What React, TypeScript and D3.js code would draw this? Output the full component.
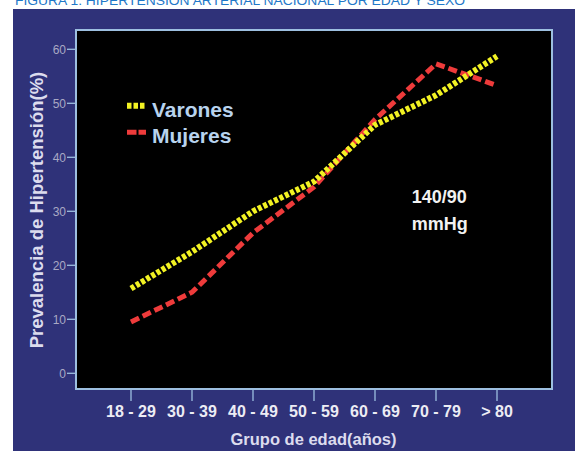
import React from "react";
import * as d3 from "d3";

const categories = ["18 - 29", "30 - 39", "40 - 49", "50 - 59", "60 - 69", "70 - 79", "> 80"];
const varones = [15.7, 22.5, 30, 35.5, 46, 51.5, 58.7];
const mujeres = [9.5, 15, 26, 34.5, 47, 57.3, 53.3];
const yTicks = [0, 10, 20, 30, 40, 50, 60];
const seriesNames = ["Varones", "Mujeres"];

export default function App() {
  const W = 575, H = 451;
  const frame = { x0: 76, x1: 552, y0: 30, y1: 389 };
  const x = d3.scalePoint<string>().domain(categories).range([131, 497]);
  const y = d3.scaleLinear().domain([0, 60]).range([373.3, 49.3]);
  const line = d3.line<number>().x((_, i) => x(categories[i]) as number).y((d) => y(d));
  const font = "Arial, 'Liberation Sans', sans-serif";
  const border = "#9dbfe0";

  return (
    <svg width={W} height={H} style={{ position: "absolute", left: 0, top: 0 }} fontFamily={font}>
      <rect x={0} y={0} width={W} height={H} fill="#ffffff" />
      <text x={15} y={5} fontSize={13} fill="#1f78c8" textLength={450} lengthAdjust="spacingAndGlyphs">
        FIGURA 1. HIPERTENSIÓN ARTERIAL NACIONAL POR EDAD Y SEXO
      </text>
      <rect x={13} y={9} width={W - 13} height={H - 9} fill="#2f3279" />
      <rect x={frame.x0} y={frame.y0} width={frame.x1 - frame.x0} height={frame.y1 - frame.y0} fill="#000" stroke={border} strokeWidth={2} />

      {yTicks.map((t) => (
        <g key={t}>
          <line x1={67} x2={frame.x0} y1={y(t)} y2={y(t)} stroke={border} strokeWidth={1.3} />
          <text x={66} y={y(t)} dy="0.35em" textAnchor="end" fontSize={12} fill="#a9a9c4">{t}</text>
        </g>
      ))}

      {categories.map((c) => (
        <g key={c}>
          <line x1={x(c)} x2={x(c)} y1={frame.y1} y2={401} stroke={border} strokeWidth={1.3} />
          <text x={x(c)} y={417} textAnchor="middle" fontSize={16} fontWeight="bold" fill="#ececf4">{c}</text>
        </g>
      ))}

      <text x={313.5} y={445} textAnchor="middle" fontSize={16.5} fontWeight="bold" fill="#dcdcee">Grupo de edad(años)</text>
      <text transform="translate(43.3,210) rotate(-90)" textAnchor="middle" fontSize={18.5} fontWeight="bold" fill="#dcdcee">
        Prevalencia de Hipertensión(%)
      </text>

      <path d={line(mujeres) || ""} fill="none" stroke="#ee3b3b" strokeWidth={5} strokeDasharray="9 4" />
      <path d={line(varones) || ""} fill="none" stroke="#f2f223" strokeWidth={6} strokeDasharray="4 2" />

      <line x1={127} x2={146} y1={105.7} y2={105.7} stroke="#f2f223" strokeWidth={6} strokeDasharray="4.5 2" />
      <text x={152} y={117.3} fontSize={21} fontWeight="bold" fill="#b8d3ee">{seriesNames[0]}</text>
      <line x1={127} x2={146} y1={132.3} y2={132.3} stroke="#ee3b3b" strokeWidth={5} strokeDasharray="9.5 2" />
      <text x={152} y={143.3} fontSize={21} fontWeight="bold" fill="#b8d3ee">{seriesNames[1]}</text>

      <text x={411.7} y={203.3} fontSize={18} fontWeight="bold" fill="#f2f2f2">140/90</text>
      <text x={411.7} y={230} fontSize={18} fontWeight="bold" fill="#f2f2f2">mmHg</text>
    </svg>
  );
}
